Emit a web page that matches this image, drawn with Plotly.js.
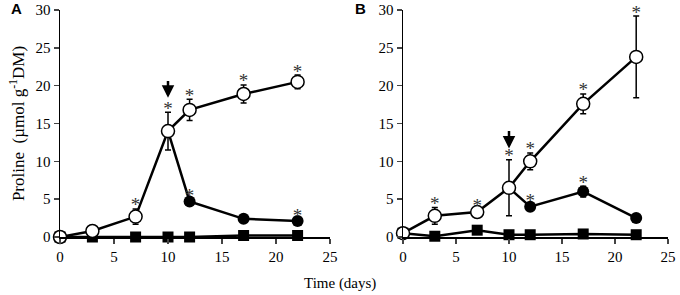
<!DOCTYPE html>
<html><head><meta charset="utf-8">
<script src="https://cdn.plot.ly/plotly-3.0.1.min.js"></script>
<style>html,body{margin:0;padding:0;background:#fff}#c{width:680px;height:295px}</style>
</head><body><div id="c"></div>
<script>
const days = [0, 3, 7, 10, 12, 17, 22];
const daysAfter = [10, 12, 17, 22];
// Panel A
const aOpen = [0, 0.8, 2.7, 14, 16.8, 18.9, 20.5];
const aOpenErr = [0, 0.2, 1.0, 2.5, 1.4, 1.2, 0.9];
const aFilled = [14, 4.7, 2.4, 2.1];
const aFilledErr = [0, 0.3, 0.2, 0.2];
const aSquare = [0, 0, 0, 0, 0, 0.2, 0.2];
const aOpenStar = [false, false, true, true, true, true, true];
const aFilledStar = [false, true, false, true];
// Panel B
const bOpen = [0.5, 2.8, 3.3, 6.5, 10, 17.6, 23.8];
const bOpenErr = [0, 1.1, 0.3, 3.7, 1.1, 1.3, 5.4];
const bFilled = [6.5, 4.0, 6.0, 2.5];
const bFilledErr = [0, 0.3, 0.7, 0.2];
const bSquare = [0.5, 0.1, 0.9, 0.3, 0.3, 0.4, 0.3];
const bOpenStar = [false, true, true, true, true, true, true];
const bFilledStar = [false, true, true, false];
const arrowDay = 10;
const xTicks = [0, 5, 10, 15, 20, 25];
const yTicks = [0, 5, 10, 15, 20, 25, 30];

const FONT = 'Liberation Serif, Times New Roman, serif';
function panel(xa, ya, open, openErr, filled, filledErr, square, oStar, fStar) {
  const out = [];
  out.push({x: days, y: square, xaxis: xa, yaxis: ya, mode: 'lines+markers', cliponaxis: false,
    line: {color: '#000', width: 2.5}, marker: {symbol: 'square', size: 11, color: '#000'}});
  out.push({x: daysAfter, y: filled, xaxis: xa, yaxis: ya, mode: 'lines+markers', cliponaxis: false,
    line: {color: '#000', width: 2.5}, marker: {symbol: 'circle', size: 12, color: '#000'},
    error_y: {type: 'data', array: filledErr, color: '#000', thickness: 1.5, width: 3}});
  out.push({x: days, y: open, xaxis: xa, yaxis: ya, mode: 'lines+markers', cliponaxis: false,
    line: {color: '#000', width: 2.5}, marker: {symbol: 'circle', size: 13, color: '#fff', line: {color: '#000', width: 1.5}},
    error_y: {type: 'data', array: openErr, color: '#000', thickness: 1.5, width: 3}});
  const sx = [], sy = [];
  days.forEach((d, i) => { if (oStar[i]) { sx.push(d); sy.push(open[i] + openErr[i] + 0.3); } });
  daysAfter.forEach((d, i) => { if (fStar[i]) { sx.push(d); sy.push(filled[i] + filledErr[i] + 0.3); } });
  out.push({x: sx, y: sy, xaxis: xa, yaxis: ya, mode: 'text', text: sx.map(() => '*'), cliponaxis: false,
    textposition: 'middle center', textfont: {family: FONT, size: 19, color: '#333'}});
  return out;
}
const data = [].concat(
  panel('x', 'y', aOpen, aOpenErr, aFilled, aFilledErr, aSquare, aOpenStar, aFilledStar),
  panel('x2', 'y2', bOpen, bOpenErr, bFilled, bFilledErr, bSquare, bOpenStar, bFilledStar)
);
const xax = d => ({domain: d, range: [0, 25], tickvals: xTicks, ticks: 'outside', ticklen: 5, tickwidth: 1.5,
  showline: true, linewidth: 1.5, linecolor: '#000', showgrid: false, zeroline: false,
  tickfont: {family: FONT, size: 15, color: '#000'}, fixedrange: true});
const yax = (anchor) => ({domain: [0, 1], range: [0, 30], tickvals: yTicks, ticks: 'outside', ticklen: 5, tickwidth: 1.5,
  showline: true, linewidth: 1.5, linecolor: '#000', showgrid: false, zeroline: false, anchor: anchor,
  tickfont: {family: FONT, size: 15, color: '#000'}, fixedrange: true});
const layout = {
  width: 680, height: 295, showlegend: false,
  paper_bgcolor: '#fff', plot_bgcolor: '#fff',
  margin: {l: 0, r: 0, t: 10, b: 58},
  xaxis: Object.assign(xax([60/680, 330/680]), {anchor: 'y'}),
  yaxis: Object.assign(yax('x'), {title: {text: 'Proline  (µmol g<sup>-1</sup>DM)', font: {family: FONT, size: 17, color: '#000'}, standoff: 6}}),
  xaxis2: Object.assign(xax([403/680, 668/680]), {anchor: 'y2'}),
  yaxis2: yax('x2'),
  annotations: [
    {x: arrowDay, y: aOpen[3] + aOpenErr[3] + 1.9, xref: 'x', yref: 'y', ax: arrowDay, ay: aOpen[3] + aOpenErr[3] + 4.3,
      axref: 'x', ayref: 'y', showarrow: true, arrowhead: 2, arrowsize: 1, arrowwidth: 2.5, arrowcolor: '#000', text: ''},
    {x: arrowDay, y: bOpen[3] + bOpenErr[3] + 1.5, xref: 'x2', yref: 'y2', ax: arrowDay, ay: bOpen[3] + bOpenErr[3] + 4.0,
      axref: 'x2', ayref: 'y2', showarrow: true, arrowhead: 2, arrowsize: 1, arrowwidth: 2.5, arrowcolor: '#000', text: ''},
    {x: 9/680, y: 1 + 1/227, xref: 'paper', yref: 'paper', xanchor: 'left', yanchor: 'middle', showarrow: false,
      text: '<b>A</b>', font: {family: 'Liberation Sans, Arial, sans-serif', size: 15, color: '#000'}},
    {x: 353/680, y: 1 + 1/227, xref: 'paper', yref: 'paper', xanchor: 'left', yanchor: 'middle', showarrow: false,
      text: '<b>B</b>', font: {family: 'Liberation Sans, Arial, sans-serif', size: 15, color: '#000'}},
    {x: 340/680, y: -46/227, xref: 'paper', yref: 'paper', xanchor: 'center', yanchor: 'middle', showarrow: false,
      text: 'Time (days)', font: {family: FONT, size: 15, color: '#000'}}
  ]
};
Plotly.newPlot('c', data, layout, {displayModeBar: false, staticPlot: true});
</script></body></html>
